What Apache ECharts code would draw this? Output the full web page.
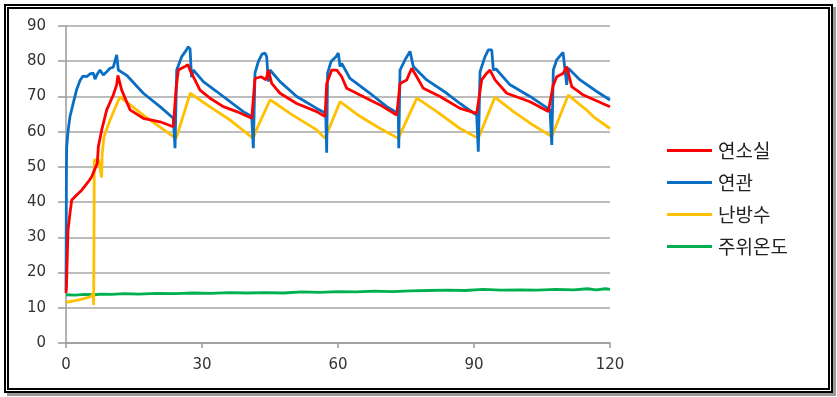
<!DOCTYPE html>
<html>
<head>
<meta charset="utf-8">
<script src="https://cdn.jsdelivr.net/npm/echarts@6/dist/echarts.min.js"></script>
<style>
  html, body { margin: 0; padding: 0; background: #fff; }
  .wrap { position: relative; width: 837px; height: 397px; }
  #chart { position: absolute; left: 0; top: 0; width: 837px; height: 397px; }
  .frame {
    position: absolute; left: 4px; top: 4px; width: 819px; height: 379px;
    border: 5px double #000;
    box-shadow: 3px 3px 0 #9a9a9a;
    pointer-events: none;
  }
</style>
</head>
<body>
<div class="wrap">
  <div id="chart"></div>
  <div class="frame"></div>
</div>
<script>
// 범례 이름
const seriesNames = ['연소실', '연관', '난방수', '주위온도']
const seriesColors = ['#ff0000', '#0a6ec4', '#ffc000', '#00b050']

// x 축 / y 축 눈금
const xTicks = [0, 30, 60, 90, 120]
const yTicks = [0, 10, 20, 30, 40, 50, 60, 70, 80, 90]

// 연소실 [시간, 온도]
const combustion = [
  [0, 14.2], [0.1, 16], [0.44, 32], [0.88, 36.8], [1.26, 40.6], [2.36, 42],
  [3.46, 43.4], [4.93, 45.8], [5.67, 47.2], [6.4, 49.5], [6.9, 51], [7.13, 55.7],
  [7.88, 60.5], [8.98, 66.2], [9.71, 68.3], [10.43, 70.4], [11.18, 73.3], [11.45, 76],
  [11.6, 75.5], [12.29, 71.8], [14.12, 66.2], [17.05, 63.8], [20.74, 62.8], [23.67, 61.4],
  [24.27, 72], [24.77, 77.5], [26.25, 78.5], [26.9, 79], [27.36, 77.5], [28.08, 75.6],
  [29.56, 71.8], [31.77, 69.5], [34.7, 67.1], [37.66, 65.7], [40.97, 63.8],
  [41.69, 75.1], [43.03, 75.6], [44.13, 74.7], [44.63, 77.5], [45.38, 73.7],
  [47.21, 70.9], [50.89, 68], [55.31, 65.7], [57.14, 64.3],
  [57.51, 73.7], [58.61, 77.5], [59.72, 77.5], [60.82, 75.6], [61.92, 72.3],
  [64.86, 70.4], [69.27, 67.6], [72.95, 64.7],
  [73.68, 73.7], [75.16, 74.7], [76.26, 78], [77.37, 75.6], [78.82, 72.3],
  [82.51, 70], [86.92, 66.6], [90.6, 65.2],
  [91.7, 74.7], [92.81, 76.6], [93.53, 77.5], [94.64, 74.7], [97.22, 70.9],
  [102.36, 68.5], [106.4, 65.7],
  [107.43, 73], [108.25, 75.6], [109.71, 76.6], [110.45, 78.5], [111.56, 72.8],
  [114.12, 70.4], [120, 67.1]
]

// 연관 [시간, 온도]
const fluePipe = [
  [0, 15], [0.1, 50], [0.15, 55.7], [0.44, 60], [0.88, 64.3], [1.6, 68.1],
  [2.36, 72], [3.09, 74.5], [3.75, 75.8], [4.57, 75.6], [5.29, 76.4], [6.02, 76.6],
  [6.4, 74.9], [6.84, 76.2], [7.5, 77.5], [8.23, 76.1], [8.98, 77], [9.71, 78],
  [10.43, 78.3], [10.81, 78.5], [11.18, 81.8], [11.54, 77.5], [11.91, 77.3],
  [13.39, 76], [17.05, 70.9], [20.74, 67.1], [23.67, 63.8],
  [24.05, 55.3], [24.42, 77.5], [25.52, 81.3], [26.47, 83], [26.98, 84.1],
  [27.36, 83.5], [27.69, 75.5], [28.08, 77.5], [30.29, 74.2], [33.24, 71.4],
  [36.18, 68.5], [39.11, 65.7], [40.97, 64.3],
  [41.32, 55.3], [41.69, 76.6], [42.42, 79.9], [43.24, 82], [43.9, 82.3],
  [44.27, 81.3], [44.63, 74.2], [45.0, 77.5], [47.21, 74.2], [50.89, 70],
  [55.31, 66.6], [57.3, 65.2],
  [57.5, 54], [57.7, 76.6], [58.46, 79.9], [59.56, 81.3], [60.07, 82.3],
  [60.34, 82.5], [60.45, 78.5], [60.82, 79.4], [62.65, 75.1], [67.06, 70.9],
  [70.75, 67.1], [73.31, 65.2],
  [73.4, 55.3], [73.68, 77.5], [74.79, 80.4], [75.89, 82.8], [76.33, 82.7],
  [76.62, 78.5], [77.37, 77.5], [79.57, 74.7], [83.99, 70.9], [86.92, 68],
  [90.6, 64.7],
  [90.95, 54.3], [91.33, 77], [92.43, 81.3], [93.16, 83.2], [93.91, 83.2],
  [94.27, 77.5], [94.86, 77.8], [97.95, 73.3], [102.36, 70], [106.77, 66.2],
  [107.15, 56.2], [107.5, 77.5], [108.25, 80.4], [109.64, 82.5], [110.08, 82.8],
  [110.45, 73.3], [110.81, 78], [113.39, 74.7], [117.08, 71.4], [120, 69]
]

// 난방수 [시간, 온도]
const heatingWater = [
  [0, 11.5], [0.44, 11.7], [2, 12], [4, 12.6], [5.5, 13.2], [6.0, 13.8],
  [6.1, 10.8], [6.25, 52], [6.6, 51.5], [7.2, 52], [7.6, 51.7], [7.85, 47],
  [8.0, 54], [8.4, 58.6], [9.71, 63.3], [11.9, 69.9], [12.2, 70.4],
  [17.05, 64.7], [23.67, 58.6], [24.3, 58.1],
  [27.4, 70.9], [27.6, 70.7], [31.7, 67.1], [36.2, 63.3], [41.3, 58.1],
  [42, 60.5], [45, 69], [45.7, 68.5], [49.4, 65.2], [55.3, 60.5], [57.14, 58.1],
  [60.45, 68.5], [60.8, 68.6], [64.9, 64.3], [69.3, 60.9], [73.3, 58.1],
  [77.4, 69.5], [77.6, 69.7], [81.8, 65.7], [86.9, 60.9], [90.95, 58.1],
  [94.6, 69.8], [94.86, 70.3], [98.7, 65.7], [102.4, 62.4], [107.15, 58.6],
  [110.8, 70.4], [111.2, 70.3], [113.4, 67.6], [114.8, 66.2], [116.3, 64.3],
  [120, 60.9]
]

// 주위온도 [시간, 온도]
const ambient = [
  [0, 13.7], [2, 13.6], [4, 13.8], [6, 13.7], [8, 13.9], [10, 13.8], [13, 14.0],
  [16, 13.9], [20, 14.1], [24, 14.0], [28, 14.2], [32, 14.1], [36, 14.3], [40, 14.2],
  [44, 14.3], [48, 14.2], [52, 14.5], [56, 14.4], [60, 14.6], [64, 14.5], [68, 14.7],
  [72, 14.6], [76, 14.8], [80, 14.9], [84, 15.0], [88, 14.9], [92, 15.2], [96, 15.0],
  [100, 15.1], [104, 15.0], [108, 15.2], [112, 15.1], [115, 15.4], [117, 15.1],
  [119, 15.4], [120, 15.2]
]

const chart = echarts.init(document.getElementById('chart'))

const seriesData = [combustion, fluePipe, heatingWater, ambient]

const option = {
  animation: false,
  backgroundColor: '#fff',
  grid: {
    left: 66,
    right: 227,
    top: 26,
    bottom: 54
  },
  legend: {
    orient: 'vertical',
    left: 662,
    top: 136,
    icon: 'rect',
    itemWidth: 45,
    itemHeight: 3,
    itemGap: 13,
    textStyle: {
      fontFamily: 'Noto Sans CJK KR',
      fontSize: 19,
      color: '#222',
      padding: [0, 0, 0, 1]
    },
    data: seriesNames
  },
  xAxis: {
    type: 'value',
    min: xTicks[0],
    max: xTicks[xTicks.length - 1],
    interval: 30,
    axisLine: { show: true, lineStyle: { color: '#9a9a9a', width: 1.5 } },
    axisTick: { show: true, length: 5, lineStyle: { color: '#9a9a9a', width: 1.5 } },
    splitLine: { show: false },
    axisLabel: {
      margin: 15,
      fontFamily: 'DejaVu Sans',
      fontSize: 15,
      color: '#333'
    }
  },
  yAxis: {
    type: 'value',
    min: yTicks[0],
    max: yTicks[yTicks.length - 1],
    interval: 10,
    axisLine: { show: true, lineStyle: { color: '#9a9a9a', width: 1.5 } },
    axisTick: { show: true, length: 8, lineStyle: { color: '#9a9a9a', width: 1.5 } },
    splitLine: { show: true, lineStyle: { color: '#a6a6a6', width: 1.5 } },
    axisLabel: {
      margin: 20,
      fontFamily: 'DejaVu Sans',
      fontSize: 15,
      color: '#333'
    }
  },
  series: seriesNames.map((name, i) => ({
    name,
    type: 'line',
    data: seriesData[i],
    showSymbol: false,
    symbol: 'none',
    lineStyle: { color: seriesColors[i], width: 2.8 },
    itemStyle: { color: seriesColors[i] },
    z: 10 - i
  }))
}

chart.setOption(option)
</script>
</body>
</html>
